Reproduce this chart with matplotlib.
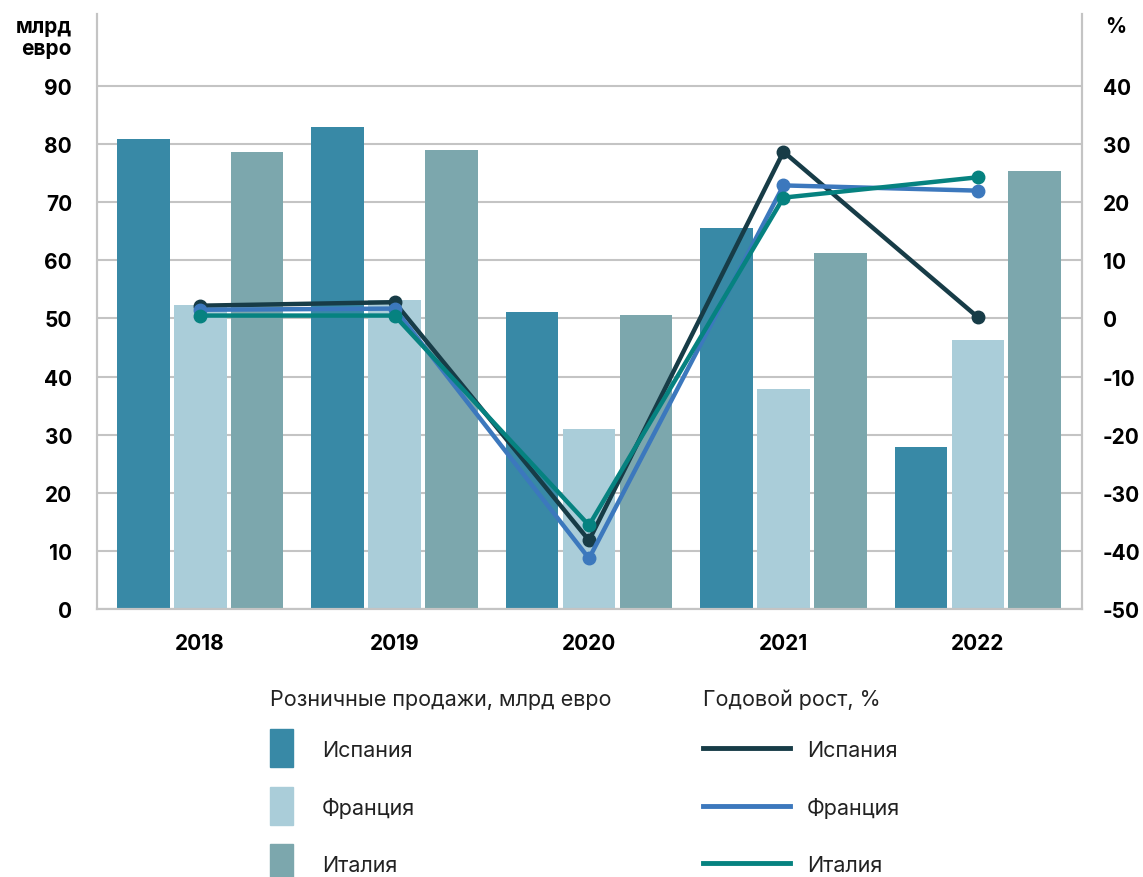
import numpy as np
import matplotlib.pyplot as plt
from matplotlib.patches import Rectangle
from matplotlib.lines import Line2D

years = ['2018', '2019', '2020', '2021', '2022']
countries = ['Испания', 'Франция', 'Италия']

# розничные продажи, млрд евро
sales_spain = [80.9, 83.0, 51.1, 65.6, 27.9]
sales_france = [52.3, 53.2, 31.0, 37.9, 46.3]
sales_italy = [78.7, 79.0, 50.6, 61.3, 75.4]

# годовой рост, %
growth_spain = [2.2, 2.8, -38.2, 28.7, 0.2]
growth_france = [1.5, 1.7, -41.3, 22.9, 22.0]
growth_italy = [0.5, 0.5, -35.6, 20.8, 24.3]

bar_colors = ['#3889a6', '#aacdd9', '#7ca7ad']
line_colors = ['#173c47', '#3c78bd', '#068280']
grid_col = '#c4c4c4'

plt.rcParams['font.family'] = ['Inter', 'DejaVu Sans']
plt.rcParams['axes.unicode_minus'] = False

fig = plt.figure(figsize=(11.43, 8.78), dpi=100)
ax = fig.add_axes([97/1143, 1 - 610/878, (1082-97)/1143, (610-15)/878])
ax2 = ax.twinx()

x = np.arange(len(years))
w = 0.272
step = 0.293
for i, vals in enumerate([sales_spain, sales_france, sales_italy]):
    ax.bar(x + (i - 1) * step, vals, width=w, color=bar_colors[i], zorder=2)

ax.set_xlim(-0.53, 4.535)
ax.set_ylim(0, 102.4)
ax.set_yticks(range(0, 100, 10))
ax.yaxis.grid(True, color=grid_col, lw=1.5, zorder=0)
ax.set_axisbelow(True)
ax.set_xticks(x)
ax.set_xticklabels(years)
ax.tick_params(axis='both', length=0, labelsize=15)
ax.tick_params(axis='x', pad=17)
ax.tick_params(axis='y', pad=18)

for growth, c in zip([growth_spain, growth_france, growth_italy], line_colors):
    ax2.plot(x, growth, color=c, lw=3.2, marker='o', ms=9, solid_capstyle='round')

ax2.set_ylim(-50, 52.4)
ax2.set_yticks(range(-50, 50, 10))
ax2.tick_params(axis='y', length=0, labelsize=15, pad=15)

for lbl in ax.get_xticklabels() + ax.get_yticklabels() + ax2.get_yticklabels():
    lbl.set_fontweight('bold')

for a in (ax, ax2):
    a.spines['top'].set_visible(False)
    for s in ('left', 'right', 'bottom'):
        a.spines[s].set_color(grid_col)
        a.spines[s].set_linewidth(1.5)

fig.text(72/1143, 1 - 38/878, 'млрд\nевро', ha='right', va='center',
         fontsize=15, fontweight='bold', linespacing=1.15)
fig.text(1105/1143, 1 - 27/878, '%', ha='left', va='center',
         fontsize=15, fontweight='bold')

# легенда внизу
def fx(px):
    return px / 1143

def fy(py):
    return 1 - py / 878

fig.text(fx(270), fy(700), 'Розничные продажи, млрд евро', fontsize=15.5,
         va='center', color='#222222')
fig.text(fx(703), fy(700), 'Годовой рост, %', fontsize=15.5,
         va='center', color='#222222')
rows = [749, 807, 864]
for i, name in enumerate(countries):
    y = rows[i]
    fig.add_artist(Rectangle((fx(270), fy(y + 19)), fx(293) - fx(270), 38/878,
                             transform=fig.transFigure, color=bar_colors[i]))
    fig.text(fx(322), fy(y + 2), name, fontsize=15.5,
             va='center', color='#222222')
    fig.add_artist(Line2D([fx(703), fx(790)], [fy(y), fy(y)],
                          transform=fig.transFigure, color=line_colors[i], lw=3.5))
    fig.text(fx(807), fy(y + 2), name, fontsize=15.5,
             va='center', color='#222222')

fig.savefig('out.png', dpi=100)
